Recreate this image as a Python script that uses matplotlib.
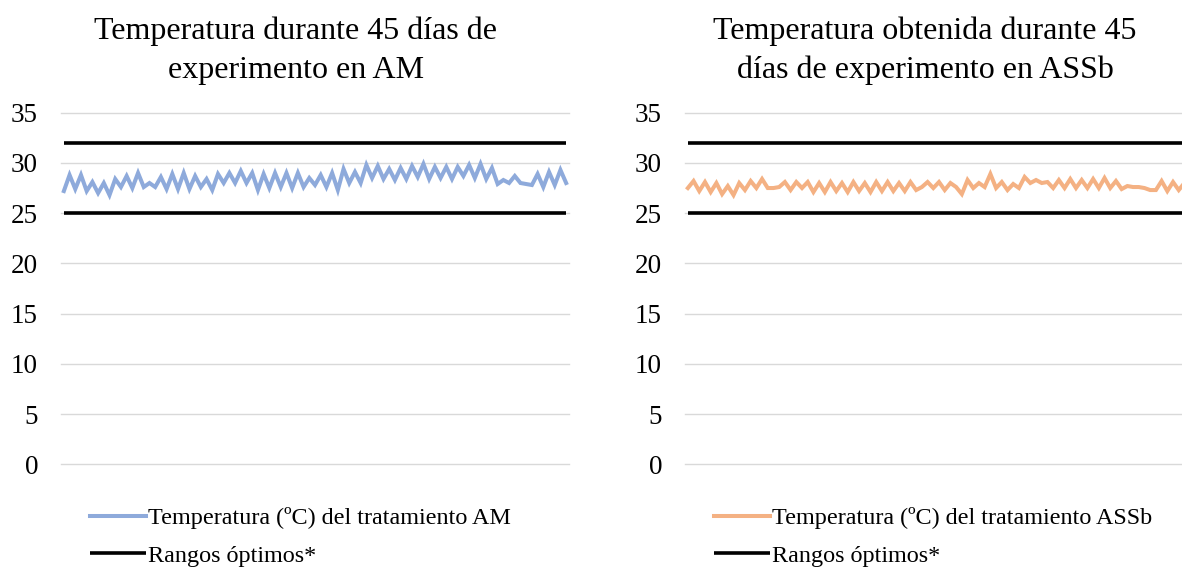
from matplotlib import pyplot as plt
import numpy as np

# temperatura (ºC) registrada dos veces al dia durante 45 dias
temp_am = [27.2, 28.8, 27.4, 28.8, 27.2, 28.1, 27.0, 28.0, 26.8, 28.4,
           27.6, 28.7, 27.5, 29.0, 27.6, 28.0, 27.6, 28.6, 27.4, 28.9,
           27.4, 29.0, 27.4, 28.7, 27.6, 28.4, 27.3, 28.9, 28.0, 29.0,
           28.0, 29.2, 28.0, 29.0, 27.3, 28.9, 27.5, 29.0, 27.6, 29.0,
           27.5, 29.0, 27.6, 28.5, 27.8, 28.8, 27.6, 29.0, 27.3, 29.4,
           28.0, 29.1, 28.0, 29.8, 28.5, 29.7, 28.4, 29.4, 28.3, 29.5,
           28.4, 29.7, 28.6, 29.9, 28.4, 29.6, 28.5, 29.6, 28.4, 29.6,
           28.7, 29.8, 28.5, 29.9, 28.4, 29.5, 27.9, 28.3, 28.0, 28.7,
           28.0, 27.9, 27.8, 28.9, 27.6, 29.1, 27.8, 29.3, 28.0]

temp_assb = [27.5, 28.2, 27.2, 28.1, 27.1, 28.0, 26.9, 27.7, 26.8, 28.0,
             27.3, 28.2, 27.5, 28.4, 27.5, 27.5, 27.6, 28.1, 27.3, 28.1,
             27.5, 28.1, 27.1, 28.0, 27.1, 28.1, 27.2, 28.0, 27.1, 28.1,
             27.2, 28.0, 27.1, 28.1, 27.2, 28.1, 27.2, 28.0, 27.2, 28.1,
             27.3, 27.6, 28.1, 27.5, 28.1, 27.3, 28.0, 27.6, 26.9, 28.3,
             27.5, 28.0, 27.6, 28.9, 27.5, 28.1, 27.3, 27.9, 27.5, 28.6,
             28.0, 28.3, 28.0, 28.1, 27.5, 28.3, 27.5, 28.4, 27.5, 28.3,
             27.5, 28.4, 27.5, 28.5, 27.5, 28.2, 27.4, 27.7, 27.6, 27.6,
             27.5, 27.3, 27.3, 28.2, 27.2, 28.1, 27.3, 28.0, 27.4]

rango_max = 32
rango_min = 25
yticks = [0, 5, 10, 15, 20, 25, 30, 35]

titulos = ["Temperatura durante 45 días de\nexperimento en AM",
           "Temperatura obtenida durante 45\ndías de experimento en ASSb"]
etiquetas = ["Temperatura (ºC) del tratamiento AM",
             "Temperatura (ºC) del tratamiento ASSb"]
colores = ["#8eaadb", "#f4b183"]
series = [temp_am, temp_assb]

plt.rcParams['font.family'] = ['Liberation Serif', 'DejaVu Serif']

fig = plt.figure(figsize=(11.82, 5.69), dpi=100)
W, H = 1182.0, 569.0

ax_left = [61, 685]
titulo_x = [296, 925]
leyenda_x = [90, 714]

for k in range(2):
    datos = series[k]
    n = len(datos)
    x = np.arange(n)
    ax = fig.add_axes([ax_left[k] / W, (H - 464.3) / H, 508 / W, 351.6 / H])
    ax.plot(x, datos, color=colores[k], lw=2.9, label=etiquetas[k],
            solid_joinstyle='miter', zorder=3)
    ax.plot(x, [rango_max] * n, color='black', lw=2.6, label='Rangos óptimos*',
            solid_capstyle='butt', zorder=3)
    ax.plot(x, [rango_min] * n, color='black', lw=2.6,
            solid_capstyle='butt', zorder=3)
    ax.set_xlim(-0.5, n - 0.5)
    ax.set_ylim(0, 35)
    ax.set_yticks(yticks)
    ax.set_xticks([])
    ax.grid(axis='y', color='#d9d9d9', lw=1.0, zorder=0)
    for g in ax.get_ygridlines():
        g.set_clip_on(False)
    ax.set_axisbelow(True)
    for s in ax.spines.values():
        s.set_visible(False)
    ax.tick_params(axis='y', length=0, pad=16.5, labelsize=19.5)

    fig.text(titulo_x[k] / W, 1 - 17 / H, titulos[k], ha='center', va='top',
             fontsize=23, linespacing=1.42)

    ax.legend(loc='upper left', bbox_to_anchor=(leyenda_x[k] / W, 1 - 507 / H),
              bbox_transform=fig.transFigure, frameon=False, fontsize=17.4,
              handlelength=2.3, handletextpad=0.1, labelspacing=0.66,
              borderpad=0, borderaxespad=0)

plt.savefig("out.png", dpi=100)
